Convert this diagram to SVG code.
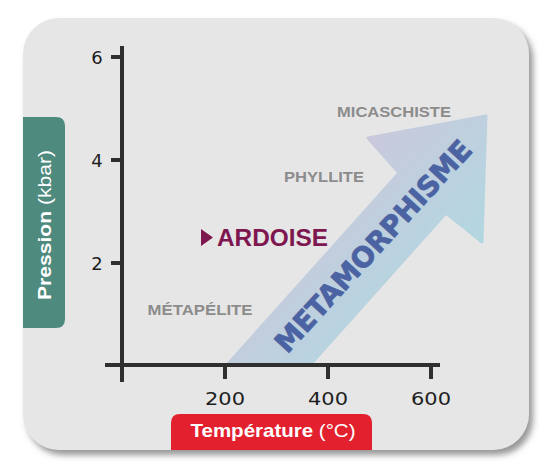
<svg xmlns="http://www.w3.org/2000/svg" width="550" height="472" viewBox="0 0 550 472">
  <style>
    .axis { stroke: #2f2f2f; stroke-width: 4; fill: none; }
    .tick { font-family: "DejaVu Sans", "Liberation Sans", Arial, sans-serif; font-size: 18px; fill: #1e1e1e; }
    .rock { font-family: "Liberation Sans", Arial, sans-serif; font-weight: bold; font-size: 15px; fill: #8c8c8c; }
    .lbl { font-family: "Liberation Sans", Arial, sans-serif; fill: #ffffff; font-size: 19px; }
  </style>
  <defs>
    <filter id="shadow" x="-10%" y="-10%" width="125%" height="125%">
      <feDropShadow dx="4" dy="5" stdDeviation="3" flood-color="#8a8a8a" flood-opacity="0.9"/>
    </filter>
    <linearGradient id="arrowGrad" gradientUnits="userSpaceOnUse" x1="368" y1="138" x2="482" y2="242">
      <stop offset="0" stop-color="#c9c9dc"/>
      <stop offset="1" stop-color="#b2d7e1"/>
    </linearGradient>
  </defs>

  <g id="panel">
    <rect x="23" y="18" width="506" height="432" rx="36" ry="36" fill="#e6e6e6" filter="url(#shadow)"/>
  </g>

  <g id="arrow">
    <path d="M227 365 L399 173 L368 138 L486 116 L482 242 L446 213 L310 365 Z" fill="url(#arrowGrad)" stroke="url(#arrowGrad)" stroke-width="3" stroke-linejoin="round"/>
    <text transform="translate(373,246) rotate(-47.5)" x="0" y="10" text-anchor="middle" textLength="276" lengthAdjust="spacingAndGlyphs" font-family="'DejaVu Sans', 'Liberation Sans', Arial, sans-serif" font-weight="bold" font-size="28" fill="#4b63a2" stroke="#4b63a2" stroke-width="0.8" stroke-linejoin="round">METAMORPHISME</text>
  </g>

  <g id="axes">
    <line class="axis" x1="122" y1="46" x2="122" y2="382"/>
    <line class="axis" x1="105" y1="365" x2="440" y2="365"/>
    <line class="axis" x1="111" y1="57" x2="122" y2="57"/>
    <line class="axis" x1="111" y1="160" x2="122" y2="160"/>
    <line class="axis" x1="111" y1="263" x2="122" y2="263"/>
    <line class="axis" x1="225" y1="365" x2="225" y2="379"/>
    <line class="axis" x1="328" y1="365" x2="328" y2="379"/>
    <line class="axis" x1="431" y1="365" x2="431" y2="379"/>
    <text class="tick" x="97" y="64" text-anchor="middle">6</text>
    <text class="tick" x="97" y="167" text-anchor="middle">4</text>
    <text class="tick" x="97" y="270" text-anchor="middle">2</text>
    <text class="tick" x="225" y="405" text-anchor="middle" textLength="40" lengthAdjust="spacingAndGlyphs">200</text>
    <text class="tick" x="328" y="405" text-anchor="middle" textLength="40" lengthAdjust="spacingAndGlyphs">400</text>
    <text class="tick" x="431" y="405" text-anchor="middle" textLength="40" lengthAdjust="spacingAndGlyphs">600</text>
  </g>

  <g id="micaschiste">
    <text class="rock" x="394" y="117" text-anchor="middle" textLength="114" lengthAdjust="spacingAndGlyphs">MICASCHISTE</text>
  </g>
  <g id="phyllite">
    <text class="rock" x="324" y="182" text-anchor="middle" textLength="80" lengthAdjust="spacingAndGlyphs">PHYLLITE</text>
  </g>
  <g id="ardoise">
    <path d="M201 229 L213 237.5 L201 246 Z" fill="#7e1650"/>
    <text x="217" y="246" textLength="111" lengthAdjust="spacingAndGlyphs" font-family="'Liberation Sans', Arial, sans-serif" font-weight="bold" font-size="23" fill="#7e1650">ARDOISE</text>
  </g>
  <g id="metapelite">
    <text class="rock" x="200" y="315" text-anchor="middle" textLength="105" lengthAdjust="spacingAndGlyphs">MÉTAPÉLITE</text>
  </g>

  <g id="temperature-label">
    <path d="M171 450 L171 423 Q171 414 180 414 L363 414 Q372 414 372 423 L372 450 Z" fill="#e2202e"/>
    <text class="lbl" x="273" y="437" text-anchor="middle" textLength="165" lengthAdjust="spacingAndGlyphs"><tspan font-weight="bold">Température</tspan> (°C)</text>
  </g>

  <g id="pression-label">
    <path d="M23 117 L56 117 Q65 117 65 126 L65 319 Q65 328 56 328 L23 328 Z" fill="#4f8a7f"/>
    <text class="lbl" transform="translate(51,225) rotate(-90)" x="0" y="0" text-anchor="middle" textLength="150" lengthAdjust="spacingAndGlyphs"><tspan font-weight="bold">Pression</tspan> (kbar)</text>
  </g>
</svg>
